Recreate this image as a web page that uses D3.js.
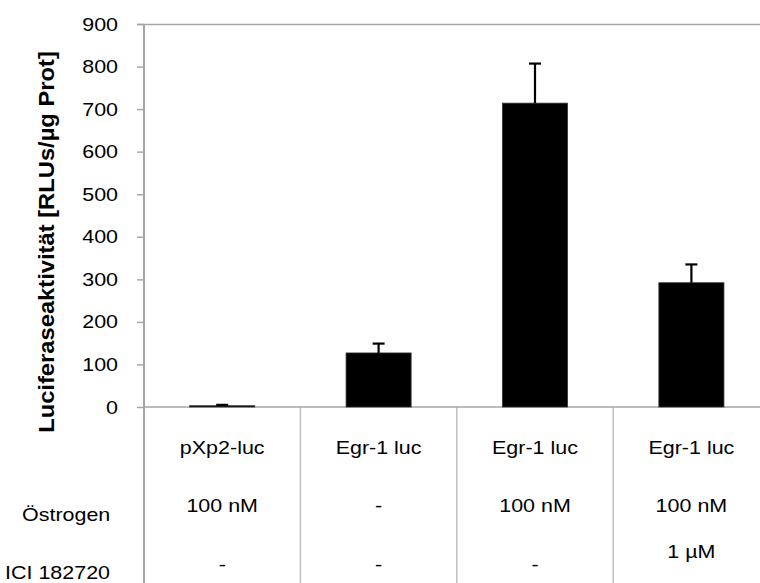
<!DOCTYPE html>
<html>
<head>
<meta charset="utf-8">
<script src="https://cdn.jsdelivr.net/npm/d3@7"></script>
<style>
  body { margin: 0; background: #fff; }
  svg { font-family: "Liberation Sans", Arial, sans-serif; }
</style>
</head>
<body>
<div id="chart"></div>
<script>
// data
const constructs = ['pXp2-luc', 'Egr-1 luc', 'Egr-1 luc', 'Egr-1 luc'];
const oestrogen = ['100 nM', '-', '100 nM', '100 nM'];
const ici = ['-', '-', '-', '1 \u00b5M'];
const values = [3, 127, 714, 292];
const errors = [2, 22, 93, 43];
const yTicks = [0, 100, 200, 300, 400, 500, 600, 700, 800, 900];

const W = 760, H = 583;
const plotLeft = 144, plotTop = 24, plotBottom = 407;
const step = 156.4;
const fs = 19, sx = 1.13; // text looks horizontally stretched in the original

const svg = d3.select('#chart').append('svg')
    .attr('width', W)
    .attr('height', H);

const x = d3.scaleBand()
    .domain(d3.range(values.length))
    .range([plotLeft, plotLeft + step * values.length])
    .paddingInner(0.584)
    .paddingOuter(0.292);

const y = d3.scaleLinear().domain([0, 900]).range([plotBottom, plotTop]);

const grey = '#a6a6a6';

function label(px, py, txt, anchor) {
    return svg.append('text')
        .attr('transform', 'translate(' + px + ',' + py + ') scale(' + sx + ',1)')
        .attr('text-anchor', anchor || 'start')
        .attr('font-size', fs)
        .text(txt);
}

// top border of the plot area
svg.append('line')
    .attr('x1', plotLeft - 7).attr('x2', W)
    .attr('y1', y(900) + 0.5).attr('y2', y(900) + 0.5)
    .attr('stroke', grey).attr('stroke-width', 1.5);

// y axis
const yAxis = svg.append('g')
    .attr('transform', 'translate(' + plotLeft + ',0)')
    .call(d3.axisLeft(y).tickValues(yTicks).tickSize(7).tickPadding(0));
yAxis.select('.domain').remove();
yAxis.selectAll('.tick line').attr('stroke', grey).attr('stroke-width', 1.5);
yAxis.selectAll('.tick text')
    .attr('x', 0)
    .attr('transform', 'translate(-26,0) scale(' + sx + ',1)')
    .attr('font-size', fs)
    .attr('font-family', '"Liberation Sans", Arial, sans-serif')
    .attr('fill', '#000');

svg.append('line')
    .attr('x1', plotLeft).attr('x2', plotLeft)
    .attr('y1', plotTop).attr('y2', H)
    .attr('stroke', grey).attr('stroke-width', 2);

// category dividers of the data table
svg.selectAll('.divider').data(d3.range(1, values.length + 1)).enter().append('line')
    .attr('class', 'divider')
    .attr('x1', d => plotLeft + step * d).attr('x2', d => plotLeft + step * d)
    .attr('y1', plotBottom).attr('y2', H)
    .attr('stroke', '#c0c0c0').attr('stroke-width', 1.5);

// baseline
svg.append('line')
    .attr('x1', plotLeft).attr('x2', W)
    .attr('y1', y(0)).attr('y2', y(0))
    .attr('stroke', grey).attr('stroke-width', 1.5);

// bars
svg.selectAll('.bar').data(values).enter().append('rect')
    .attr('class', 'bar')
    .attr('x', (d, i) => x(i))
    .attr('width', x.bandwidth())
    .attr('y', d => y(d))
    .attr('height', d => y(0) - y(d))
    .attr('fill', '#000')
    .attr('stroke', '#333')
    .attr('stroke-width', 0.8);

// error bars (upper only)
const errG = svg.selectAll('.err').data(values).enter().append('g').attr('class', 'err');
errG.append('line')
    .attr('x1', (d, i) => x(i) + x.bandwidth() / 2)
    .attr('x2', (d, i) => x(i) + x.bandwidth() / 2)
    .attr('y1', d => y(d))
    .attr('y2', (d, i) => y(d + errors[i]))
    .attr('stroke', '#000').attr('stroke-width', 2.2);
errG.append('line')
    .attr('x1', (d, i) => x(i) + x.bandwidth() / 2 - 6)
    .attr('x2', (d, i) => x(i) + x.bandwidth() / 2 + 6)
    .attr('y1', (d, i) => y(d + errors[i]))
    .attr('y2', (d, i) => y(d + errors[i]))
    .attr('stroke', '#000').attr('stroke-width', 2.2);

// y axis title
svg.append('text')
    .attr('transform', 'translate(54,242) rotate(-90) scale(1.08,1)')
    .attr('text-anchor', 'middle')
    .attr('font-size', 22)
    .attr('font-weight', 'bold')
    .text('Luciferaseaktivit\u00e4t [RLUs/\u00b5g Prot]');

// data table rows
constructs.forEach((d, i) => label(x(i) + x.bandwidth() / 2, 454, d, 'middle'));
oestrogen.forEach((d, i) => label(x(i) + x.bandwidth() / 2, 512, d, 'middle'));
ici.forEach((d, i) => label(x(i) + x.bandwidth() / 2, d === '-' ? 571 : 558, d, 'middle'));

label(22, 521, '\u00d6strogen');
label(5, 579, 'ICI 182720');
</script>
</body>
</html>
